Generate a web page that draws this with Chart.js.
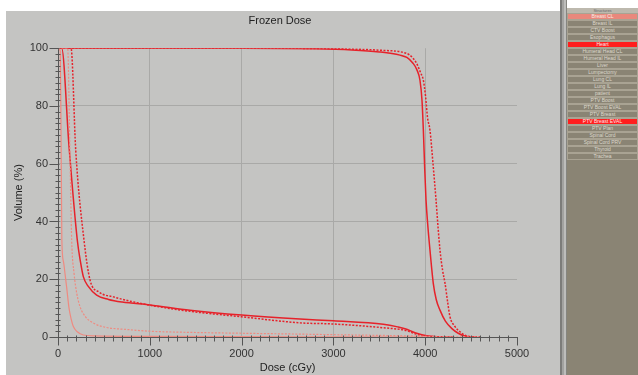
<!DOCTYPE html>
<html><head><meta charset="utf-8">
<script src="https://cdn.jsdelivr.net/npm/chart.js@4.4.1/dist/chart.umd.min.js"></script>
<style>
html,body{margin:0;padding:0;background:#fff;width:638px;height:375px;overflow:hidden;font-family:"Liberation Sans",Arial,sans-serif}
#panel{position:absolute;left:6px;top:11px;width:554px;height:364px;background:#c4c4c2}
#wrap{position:absolute;left:0;top:0;width:560px;height:375px}
#sep{position:absolute;left:560px;top:0;width:7px;height:375px;background:linear-gradient(to right,#7c7c7a 0 2px,#a2a2a0 2px 4px,#bdbdbb 4px 6px,#858580 6px 7px)}
#list{position:absolute;left:567px;top:0;width:71px;height:375px;background:#8a8474}
#listTop{height:8px;background:#fff}
#listHead{height:5px;background:#bdb9ae;font-size:4px;line-height:5px;color:#666;text-align:center}
.row{box-sizing:border-box;height:7px;border:1px solid #a9a393;font-size:5px;line-height:5px;color:#dcd8cc;text-align:center;white-space:nowrap;overflow:hidden}
.row.sel1{background:#e9887c;color:#fbe9e4}
.row.sel2{background:#ff1e1e;color:#ffe6e6}
</style>
</head><body>
<div id="panel"></div>
<div id="wrap"><canvas id="c" width="560" height="375"></canvas></div>
<div id="sep"></div>
<div id="list"><div id="listTop"></div><div id="listHead">Structures</div><div id="rows"></div></div>
<script>
// ---- data ----
const structures = ["Breast CL","Breast IL","CTV Boost","Esophagus","Heart","Humeral Head CL","Humeral Head IL","Liver","Lumpectomy","Lung CL","Lung IL","patient","PTV Boost","PTV Boost EVAL","PTV Breast","PTV Breast EVAL","PTV Plan","Spinal Cord","Spinal Cord PRV","Thyroid","Trachea"];
const selectedPale = ["Breast CL"];
const selectedRed = ["Heart","PTV Breast EVAL"];

const doseTickValues = [0,1000,2000,3000,4000,5000];
const volumeTickValues = [0,20,40,60,80,100];
const minorDoseStep = 100;
const minorVolumeStep = 2;

// PTV Breast EVAL
const ptvSolidDose = [0,2000,2800,3200,3500,3725,3800,3867,3910,3943,3965,3980,3995,4009,4030,4052,4088,4120,4161,4220,4288,4360,4452,4550];
const ptvSolidVol  = [100,100,99.8,99.4,98.7,97.6,96.8,94.8,92.5,88.9,82,71.6,58,47.4,38,30.1,18.6,13,9.3,5.5,3.0,1.3,0.2,0];
const ptvDashDose  = [0,2000,2800,3200,3500,3798,3860,3907,3950,3980,4005,4025,4052,4085,4118,4140,4161,4190,4216,4245,4270,4320,4379,4430,4500,4600];
const ptvDashVol   = [100,100,99.9,99.7,99.3,98.2,96.8,94.7,91.5,88.9,83,76,71.6,60,47.4,38,30.1,23,18.6,12,7,3.8,1.8,0.6,0.1,0];

// Heart
const heartSolidDose = [0,40,120,210,245,276,330,421,550,700,1002,1438,2000,2636,3000,3544,3700,3798,3850,3907,4016,4150,4300];
const heartSolidVol  = [100,100,66,33.6,26,20.9,17.5,14.5,13.0,12.1,11.1,9.3,7.6,6.2,5.6,4.4,3.5,2.7,2.0,1.3,0.45,0.1,0];
const heartDashDose  = [0,142,193,283,349,450,603,800,1002,1438,2000,2636,3000,3544,3798,3907,4016,4200];
const heartDashVol   = [100,100,64.7,33.6,19.7,15.5,13.9,12.3,11.0,8.9,7.0,4.9,4.5,3.2,2.2,0.9,0.3,0];

// Breast CL
const breastSolidDose = [0,25,32,38,42,60,80,95,120,145,167,210,276,400,1000,2000,3000,4000];
const breastSolidVol  = [100,99,75,50,33.6,26,21,17,10,6,3.6,1.8,0.7,0.4,0.2,0.1,0.05,0];
const breastDashDose  = [0,105,131,149,175,205,240,300,400,530,750,1002,1438,2000,2636,3000,3800,4200,4600];
const breastDashVol   = [100,100,62,33.6,22,15,10.5,7,4.6,3.3,2.6,2.0,1.6,1.3,1.0,0.8,0.4,0.1,0];

// ---- list panel ----
const rowsEl = document.getElementById('rows');
structures.forEach(s => {
  const d = document.createElement('div');
  d.className = 'row' + (selectedPale.includes(s) ? ' sel1' : selectedRed.includes(s) ? ' sel2' : '');
  d.textContent = s;
  rowsEl.appendChild(d);
});

// ---- chart ----
const pts = (xs, ys) => xs.map((x, i) => ({x, y: ys[i]}));
const RED = '#e6222a', PALE = '#ef8a80';
function ds(label, xs, ys, color, dashed, w) {
  return {label, data: pts(xs, ys), borderColor: color, borderWidth: w || 1.5,
    borderDash: dashed ? [2, 1.5] : [], pointRadius: 0, fill: false,
    cubicInterpolationMode: 'monotone'};
}

const minorTicks = {
  id: 'minorTicks',
  afterDraw(chart) {
    const {ctx, scales: {x, y}} = chart;
    const x0 = Math.round(x.getPixelForValue(0)) + 0.5;
    const y0 = Math.round(y.getPixelForValue(0)) + 0.5;
    ctx.save();
    ctx.strokeStyle = '#555'; ctx.lineWidth = 1;
    ctx.beginPath();
    for (let v = 0; v <= 5000; v += minorDoseStep) {
      const px = Math.round(x.getPixelForValue(v)) + 0.5;
      const major = doseTickValues.includes(v);
      ctx.moveTo(px, y0 - (major ? 0 : 2)); ctx.lineTo(px, y0 + (major ? 8 : 4));
    }
    for (let v = 0; v <= 100; v += minorVolumeStep) {
      const py = Math.round(y.getPixelForValue(v)) + 0.5;
      const major = volumeTickValues.includes(v);
      ctx.moveTo(x0 - (major ? 9 : 3), py); ctx.lineTo(x0 + (major ? 1 : 2), py);
    }
    ctx.stroke();
    ctx.restore();
  }
};

const FONT = {family: '"Liberation Sans", Arial, sans-serif', size: 11};
new Chart(document.getElementById('c'), {
  type: 'line',
  data: {datasets: [
    ds('Breast CL (dashed)', breastDashDose, breastDashVol, PALE, true, 1.2),
    ds('Breast CL', breastSolidDose, breastSolidVol, PALE, false, 1.2),
    ds('Heart (dashed)', heartDashDose, heartDashVol, RED, true),
    ds('Heart', heartSolidDose, heartSolidVol, RED, false),
    ds('PTV Breast EVAL (dashed)', ptvDashDose, ptvDashVol, RED, true),
    ds('PTV Breast EVAL', ptvSolidDose, ptvSolidVol, RED, false)
  ]},
  options: {
    responsive: false, animation: false, devicePixelRatio: 1,
    layout: {padding: 0},
    plugins: {
      legend: {display: false}, tooltip: {enabled: false},
      title: {display: true, text: 'Frozen Dose', color: '#222', font: {...FONT, weight: 'normal'}, padding: {top: 14, bottom: 21}}
    },
    scales: {
      x: {type: 'linear', min: 0, max: 5000,
        afterBuildTicks: s => { s.ticks = doseTickValues.map(v => ({value: v})); },
        ticks: {color: '#333', font: FONT, padding: 10, maxRotation: 0, callback: v => String(v)},
        grid: {drawTicks: false, color: c => (c.tick && (c.tick.value === 0 || c.tick.value === 5000)) ? 'rgba(0,0,0,0)' : '#a9a9a7'},
        border: {color: '#555'},
        title: {display: true, text: 'Dose (cGy)', color: '#222', font: FONT, padding: {top: 0, bottom: 0}},
        afterFit: s => { s.height = 38; }
      },
      y: {type: 'linear', min: 0, max: 100,
        afterBuildTicks: s => { s.ticks = volumeTickValues.map(v => ({value: v})); },
        ticks: {color: '#333', font: FONT, padding: 10, callback: v => String(v)},
        grid: {drawTicks: false, color: c => (c.tick && (c.tick.value === 0 || c.tick.value === 100)) ? 'rgba(0,0,0,0)' : '#a9a9a7'},
        border: {color: '#555'},
        title: {display: true, text: 'Volume (%)', color: '#222', font: FONT, padding: {top: 12, bottom: 0}},
        afterFit: s => { s.width = 58; }
      },
      y2: {type: 'linear', position: 'right', display: true,
        grid: {display: false}, ticks: {display: false}, border: {display: false},
        afterFit: s => { s.width = 43; }
      }
    }
  },
  plugins: [minorTicks]
});
</script>
</body></html>
